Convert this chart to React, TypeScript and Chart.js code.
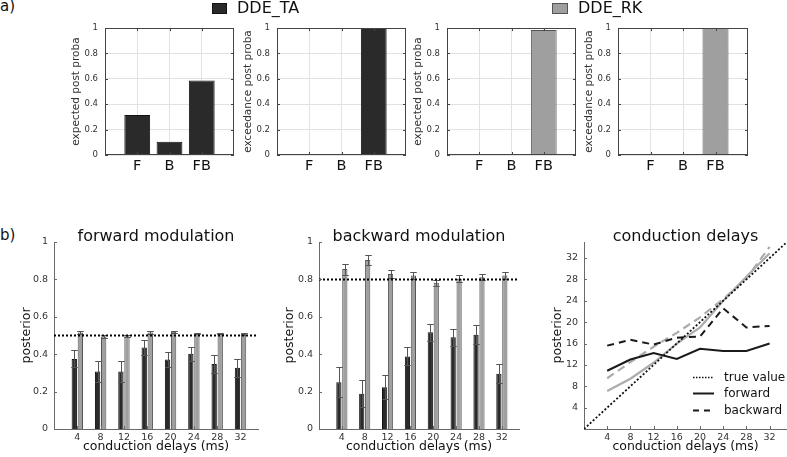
import React, { useEffect, useRef } from "react";
import { Chart, registerables } from "chart.js";
Chart.register(...registerables);

// ---------------- data ----------------
const modelLabels = ["F", "B", "FB"];
const expectedTA = [0.315, 0.104, 0.588];
const exceedanceTA = [0, 0, 1];
const expectedRK = [0.008, 0.008, 0.985];
const exceedanceRK = [0, 0, 1];
const probTicks = [0, 0.2, 0.4, 0.6, 0.8, 1];

const delays = [4, 8, 12, 16, 20, 24, 28, 32];
const fwdModTA = [0.375, 0.307, 0.307, 0.436, 0.371, 0.402, 0.348, 0.327];
const fwdModTAErr = [0.045, 0.055, 0.055, 0.041, 0.04, 0.036, 0.047, 0.048];
const fwdModRK = [0.516, 0.495, 0.496, 0.516, 0.52, 0.511, 0.511, 0.509];
const fwdModRKErr = [0.006, 0.006, 0.006, 0.006, 0.006, 0.005, 0.005, 0.005];
const bwdModTA = [0.25, 0.188, 0.223, 0.388, 0.518, 0.491, 0.504, 0.295];
const bwdModTAErr = [0.08, 0.072, 0.064, 0.048, 0.045, 0.045, 0.05, 0.05];
const bwdModRK = [0.855, 0.904, 0.829, 0.821, 0.782, 0.804, 0.812, 0.821];
const bwdModRKErr = [0.03, 0.026, 0.02, 0.019, 0.016, 0.017, 0.017, 0.021];
const fwdModTrue = 0.5;
const bwdModTrue = 0.8;

const delayFwdTA = [10.9, 13.0, 14.2, 13.1, 15.0, 14.6, 14.6, 16.0];
const delayBwdTA = [15.6, 16.7, 15.8, 17.1, 17.3, 22.6, 19.0, 19.3];
const delayFwdRK = [7.1, 9.4, 12.4, 16.0, 19.0, 24.0, 28.5, 32.9];
const delayBwdRK = [9.5, 12.5, 15.4, 18.0, 20.9, 24.3, 28.2, 34.1];
const delayRange = [0, 35];

const seriesNames = ["DDE_TA", "DDE_RK"];
const legendLabels = ["true value", "forward", "backward"];

// ---------------- styles ----------------
const FAMILY = '"DejaVu Sans", Verdana, sans-serif';
const TA_FILL = "#2a2a2a";
const TA_EDGE = "#111111";
const RK_FILL = "#9f9f9f";
const RK_EDGE = "#555555";
const RK_LINE = "#acacac";
const GRID = "#e2e2e2";
const FRAME = "#444444";
const AXIS = "#6a6a6a";
const TICK = "#333333";
const TITLE = "#111111";
const ERR = "#555555";

// ---------------- plugins ----------------
const framePlugin = (color: string) => ({
  id: "boxFrame",
  afterDraw(chart: any) {
    const { ctx, chartArea: a } = chart;
    ctx.save();
    ctx.strokeStyle = color;
    ctx.lineWidth = 1;
    const l = Math.round(a.left) + 0.5;
    const t = Math.round(a.top) + 0.5;
    const r = Math.round(a.right) - 0.5;
    const b = Math.round(a.bottom) - 0.5;
    ctx.strokeRect(l, t, r - l, b - t);
    ctx.restore();
  },
});

const inTicksPlugin = (color: string, len: number, mirror: boolean) => ({
  id: "inTicks",
  afterDraw(chart: any) {
    const { ctx, chartArea: a, scales } = chart;
    ctx.save();
    ctx.strokeStyle = color;
    ctx.lineWidth = 1;
    ctx.beginPath();
    const xs = scales.x;
    for (const t of xs.ticks) {
      const px = Math.round(xs.getPixelForValue(t.value)) + 0.5;
      ctx.moveTo(px, a.bottom);
      ctx.lineTo(px, a.bottom - len);
      if (mirror) {
        ctx.moveTo(px, a.top);
        ctx.lineTo(px, a.top + len);
      }
    }
    const ys = scales.y;
    for (const t of ys.ticks) {
      const py = Math.round(ys.getPixelForValue(t.value)) + 0.5;
      ctx.moveTo(a.left, py);
      ctx.lineTo(a.left + len, py);
      if (mirror) {
        ctx.moveTo(a.right, py);
        ctx.lineTo(a.right - len, py);
      }
    }
    ctx.stroke();
    ctx.restore();
  },
});

const errorBarPlugin = {
  id: "errorBars",
  afterDatasetDraw(chart: any, args: any) {
    const ds: any = chart.data.datasets[args.index];
    if (!ds.errors) return;
    const ys = chart.scales.y;
    const ctx = chart.ctx;
    ctx.save();
    ctx.strokeStyle = ds.errorColor || ERR;
    ctx.lineWidth = 1;
    ctx.beginPath();
    args.meta.data.forEach((el: any, j: number) => {
      const v = ds.data[j].y;
      const e = ds.errors[j];
      const x = Math.round(el.x) + 0.5;
      const hi = Math.round(ys.getPixelForValue(v + e)) + 0.5;
      const lo = Math.round(ys.getPixelForValue(v - e)) + 0.5;
      const half = el.width * 0.62;
      ctx.moveTo(x, hi);
      ctx.lineTo(x, lo);
      ctx.moveTo(x - half, hi);
      ctx.lineTo(x + half, hi);
      ctx.moveTo(x - half, lo);
      ctx.lineTo(x + half, lo);
    });
    ctx.stroke();
    ctx.restore();
  },
};

type LegendItem = { text: string; color: string; width: number; dash: number[] };
const lineLegendPlugin = (items: LegendItem[]) => ({
  id: "lineLegend",
  afterDraw(chart: any) {
    const { ctx, chartArea: a } = chart;
    ctx.save();
    ctx.font = `12px ${FAMILY}`;
    ctx.textBaseline = "middle";
    ctx.textAlign = "left";
    items.forEach((it, i) => {
      const y = Math.round(a.bottom - 52 + i * 16.3) + 0.5;
      ctx.strokeStyle = it.color;
      ctx.lineWidth = it.width;
      ctx.setLineDash(it.dash);
      ctx.beginPath();
      ctx.moveTo(a.right - 94, y);
      ctx.lineTo(a.right - 73, y);
      ctx.stroke();
      ctx.setLineDash([]);
      ctx.fillStyle = TITLE;
      ctx.fillText(it.text, a.right - 63, y);
    });
    ctx.restore();
  },
});

// ---------------- layout helpers ----------------
type Area = { left: number; top: number; right: number; bottom: number };
type Rect = { left: number; top: number; width: number; height: number };
const PAD_TOP = 8;

function place(area: Area, yTitleX: number, yTitleSize: number, titleH: number, padRight: number, xTitleY: number | null, xTitleSize: number, xh0: number) {
  const left = Math.round(yTitleX - (yTitleSize * 1.2) / 2);
  const top = area.top - titleH - PAD_TOP;
  const bottom = xTitleY != null ? Math.round(xTitleY + (xTitleSize * 1.2) / 2) : area.bottom + xh0;
  const right = area.right + padRight;
  return {
    rect: { left, top, width: right - left, height: bottom - top } as Rect,
    yw: area.left - left,
    xh: bottom - area.bottom,
    padRight,
  };
}

const baseOptions = (padRight: number) => ({
  animation: false,
  responsive: false,
  maintainAspectRatio: false,
  events: [],
  layout: { padding: { top: PAD_TOP, right: padRight, left: 0, bottom: 0 } },
});

// ---------------- top panels ----------------
function topConfig(area: Area, yTitleX: number, yTitle: string, values: number[], fill: string, edge: string) {
  const p = place(area, yTitleX, 10.5, 0, 6, null, 0, 25);
  const config = {
    type: "bar",
    data: {
      datasets: [
        {
          data: values.map((v, i) => ({ x: i + 1, y: v })),
          backgroundColor: fill,
          borderColor: edge,
          borderWidth: 1,
          barPercentage: 0.8,
          categoryPercentage: 1,
        },
      ],
    },
    options: {
      ...baseOptions(p.padRight),
      plugins: { legend: { display: false }, tooltip: { enabled: false }, title: { display: false } },
      scales: {
        x: {
          type: "linear",
          min: 0,
          max: modelLabels.length + 1,
          offset: false,
          afterBuildTicks: (s: any) => {
            s.ticks = modelLabels.map((_, i) => ({ value: i + 1 }));
          },
          ticks: {
            autoSkip: false,
            maxRotation: 0,
            padding: 3,
            color: TITLE,
            font: { family: FAMILY, size: 14.5 },
            callback: (_v: any, i: number) => modelLabels[i],
          },
          grid: { color: GRID, drawTicks: false, offset: false },
          border: { display: false },
          afterFit: (s: any) => {
            s.height = p.xh;
          },
        },
        y: {
          type: "linear",
          min: 0,
          max: 1,
          afterBuildTicks: (s: any) => {
            s.ticks = probTicks.map((v) => ({ value: v }));
          },
          ticks: { padding: 7, color: TICK, font: { family: FAMILY, size: 8.5 }, callback: (v: any) => String(v) },
          grid: { color: GRID, drawTicks: false },
          border: { display: false },
          title: { display: true, text: yTitle, padding: 0, color: TICK, font: { family: FAMILY, size: 10.5 } },
          afterFit: (s: any) => {
            s.width = p.yw;
          },
        },
      },
    },
    plugins: [framePlugin(FRAME), inTicksPlugin(FRAME, 3, true)],
  };
  return { rect: p.rect, config };
}

// ---------------- bottom panels ----------------
const TITLE_H = 11;
const xTitleText = "conduction delays (ms)";

function bottomScales(p: any, yMax: number, yTicks: number[]) {
  return {
    x: {
      type: "linear",
      min: delayRange[0],
      max: delayRange[1],
      offset: false,
      afterBuildTicks: (s: any) => {
        s.ticks = delays.map((v) => ({ value: v }));
      },
      ticks: { autoSkip: false, maxRotation: 0, padding: 3, color: TICK, font: { family: FAMILY, size: 9.5 }, callback: (v: any) => String(v) },
      grid: { display: false, drawTicks: false, offset: false },
      border: { display: true, color: AXIS, width: 1 },
      title: { display: true, text: xTitleText, padding: 0, color: TITLE, font: { family: FAMILY, size: 12.5 } },
      afterFit: (s: any) => {
        s.height = p.xh;
      },
    },
    y: {
      type: "linear",
      min: 0,
      max: yMax,
      afterBuildTicks: (s: any) => {
        s.ticks = yTicks.map((v) => ({ value: v }));
      },
      ticks: { padding: 6, color: TICK, font: { family: FAMILY, size: 9.5 }, callback: (v: any) => String(v) },
      grid: { display: false, drawTicks: false },
      border: { display: true, color: AXIS, width: 1 },
      title: { display: true, text: "posterior", padding: 0, color: TITLE, font: { family: FAMILY, size: 12.5 } },
      afterFit: (s: any) => {
        s.width = p.yw;
      },
    },
  };
}

const titlePlugin = (text: string) => ({
  display: true,
  text,
  fullSize: false,
  padding: 0,
  color: TITLE,
  font: { family: FAMILY, size: 16, weight: "normal", lineHeight: TITLE_H / 16 },
});

function modConfig(area: Area, yTitleX: number, title: string, ta: number[], taErr: number[], rk: number[], rkErr: number[], trueVal: number) {
  const p = place(area, yTitleX, 12.5, TITLE_H, 4, 446.5, 12.5, 0);
  const config = {
    type: "bar",
    data: {
      datasets: [
        {
          type: "line",
          data: delayRange.map((x) => ({ x, y: trueVal })),
          borderColor: "#000",
          borderWidth: 2,
          borderDash: [2, 2],
          pointRadius: 0,
          fill: false,
        },
        {
          type: "bar",
          data: delays.map((d, i) => ({ x: d, y: ta[i] })),
          errors: taErr,
          errorColor: ERR,
          backgroundColor: TA_FILL,
          borderColor: TA_EDGE,
          borderWidth: 1,
          barPercentage: 0.88,
          categoryPercentage: 0.52,
        },
        {
          type: "bar",
          data: delays.map((d, i) => ({ x: d, y: rk[i] })),
          errors: rkErr,
          errorColor: ERR,
          backgroundColor: RK_FILL,
          borderColor: RK_EDGE,
          borderWidth: 1,
          barPercentage: 0.88,
          categoryPercentage: 0.52,
        },
      ],
    },
    options: {
      ...baseOptions(p.padRight),
      plugins: { legend: { display: false }, tooltip: { enabled: false }, title: titlePlugin(title) },
      scales: bottomScales(p, 1, probTicks),
    },
    plugins: [errorBarPlugin, inTicksPlugin(AXIS, 3, false)],
  };
  return { rect: p.rect, config };
}

function delayConfig(area: Area, yTitleX: number) {
  const p = place(area, yTitleX, 12.5, TITLE_H, 0, 446.5, 12.5, 0);
  const line = (vals: number[], color: string, width: number, dash: number[]) => ({
    data: delays.map((d, i) => ({ x: d, y: vals[i] })),
    borderColor: color,
    borderWidth: width,
    borderDash: dash,
    pointRadius: 0,
    tension: 0,
    fill: false,
  });
  const config = {
    type: "line",
    data: {
      datasets: [
        {
          data: delayRange.map((v) => ({ x: v, y: v })),
          borderColor: "#111",
          borderWidth: 1.8,
          borderDash: [2, 2],
          pointRadius: 0,
          fill: false,
        },
        line(delayFwdTA, "#1a1a1a", 2, []),
        line(delayBwdTA, "#1a1a1a", 2, [7, 5]),
        line(delayFwdRK, RK_LINE, 2.2, []),
        line(delayBwdRK, RK_LINE, 2.2, [8, 5]),
      ],
    },
    options: {
      ...baseOptions(p.padRight),
      plugins: { legend: { display: false }, tooltip: { enabled: false }, title: titlePlugin("conduction delays") },
      scales: bottomScales(p, delayRange[1], delays),
    },
    plugins: [
      inTicksPlugin(AXIS, 3, false),
      lineLegendPlugin([
        { text: legendLabels[0], color: "#111", width: 1.5, dash: [1.5, 1.5] },
        { text: legendLabels[1], color: "#1a1a1a", width: 2, dash: [] },
        { text: legendLabels[2], color: "#1a1a1a", width: 2, dash: [6, 5] },
      ]),
    ],
  };
  return { rect: p.rect, config };
}

const TOP = 24;
const TOP_BOTTOM = 155;
const BOT_TOP = 242;
const BOT_BOTTOM = 429;

const panels = [
  topConfig({ left: 105, right: 234, top: TOP, bottom: TOP_BOTTOM }, 76, "expected post proba", expectedTA, TA_FILL, TA_EDGE),
  topConfig({ left: 277, right: 406, top: TOP, bottom: TOP_BOTTOM }, 248, "exceedance post proba", exceedanceTA, TA_FILL, TA_EDGE),
  topConfig({ left: 447, right: 576, top: TOP, bottom: TOP_BOTTOM }, 418, "expected post proba", expectedRK, RK_FILL, RK_EDGE),
  topConfig({ left: 618, right: 748, top: TOP, bottom: TOP_BOTTOM }, 589, "exceedance post proba", exceedanceRK, RK_FILL, RK_EDGE),
  modConfig({ left: 54, right: 258, top: BOT_TOP, bottom: BOT_BOTTOM }, 26.7, "forward modulation", fwdModTA, fwdModTAErr, fwdModRK, fwdModRKErr, fwdModTrue),
  modConfig({ left: 319, right: 519, top: BOT_TOP, bottom: BOT_BOTTOM }, 289.3, "backward modulation", bwdModTA, bwdModTAErr, bwdModRK, bwdModRKErr, bwdModTrue),
  delayConfig({ left: 584, right: 787, top: BOT_TOP, bottom: BOT_BOTTOM }, 557.3),
];

function ChartCanvas({ rect, config }: { rect: Rect; config: any }) {
  const ref = useRef<HTMLCanvasElement>(null);
  useEffect(() => {
    const chart = new Chart(ref.current as HTMLCanvasElement, config);
    return () => chart.destroy();
  }, []);
  return (
    <canvas
      ref={ref}
      width={rect.width}
      height={rect.height}
      style={{ position: "absolute", left: rect.left, top: rect.top, width: rect.width, height: rect.height }}
    />
  );
}

const textStyle = (left: number, top: number, size: number): React.CSSProperties => ({
  position: "absolute",
  left,
  top,
  fontFamily: FAMILY,
  fontSize: size,
  lineHeight: `${size}px`,
  color: TITLE,
  whiteSpace: "nowrap",
});

export default function App() {
  return (
    <div style={{ position: "absolute", left: 0, top: 0, width: 787, height: 457, background: "#fff", overflow: "hidden" }}>
      {panels.map((p, i) => (
        <ChartCanvas key={i} rect={p.rect} config={p.config} />
      ))}
      <div style={textStyle(0, -1, 15)}>a)</div>
      <div style={textStyle(0, 228, 15)}>b)</div>
      <div style={{ position: "absolute", left: 212, top: 3, width: 15, height: 11, background: TA_FILL, border: `1px solid ${TA_EDGE}`, boxSizing: "border-box" }} />
      <div style={textStyle(237, 0, 16)}>{seriesNames[0]}</div>
      <div style={{ position: "absolute", left: 552, top: 3, width: 16, height: 11, background: RK_FILL, border: `1px solid ${RK_EDGE}`, boxSizing: "border-box" }} />
      <div style={textStyle(578, 0, 16)}>{seriesNames[1]}</div>
    </div>
  );
}
